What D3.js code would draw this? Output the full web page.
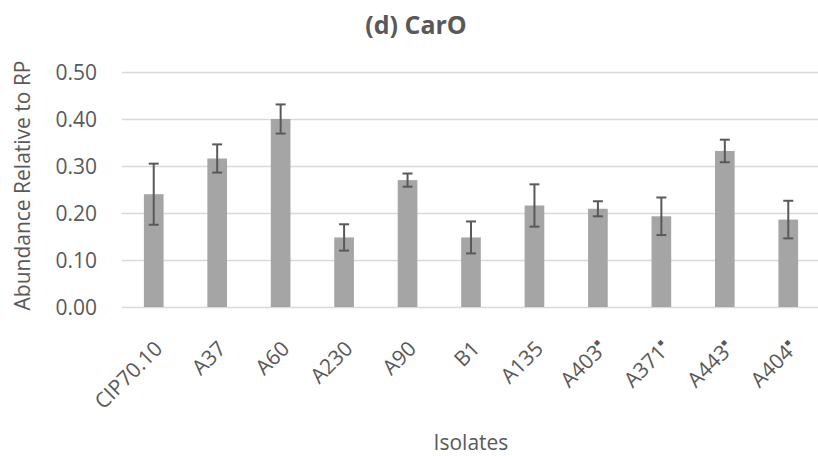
<!DOCTYPE html>
<html>
<head>
<meta charset="utf-8">
<script src="https://cdn.jsdelivr.net/npm/d3@7"></script>
<style>
  body { margin: 0; background: #fff; }
  svg { display: block; font-family: "Open Sans", sans-serif; }
  .grid line { stroke: #d9d9d9; stroke-width: 1.5; }
  .grid .domain { display: none; }
  .ytick text { fill: #595959; font-size: 21px; }
  .xlab { fill: #595959; font-size: 21px; }
  .errbar { stroke: #595959; stroke-width: 2; }
</style>
</head>
<body>
<svg id="chart" width="818" height="456"></svg>
<script>
// chart data
const isolates = ["CIP70.10", "A37", "A60", "A230", "A90", "B1", "A135", "A403", "A371", "A443", "A404"];
const marked = [false, false, false, false, false, false, false, true, true, true, true];
const abundance = [0.240, 0.316, 0.400, 0.148, 0.270, 0.148, 0.216, 0.209, 0.193, 0.332, 0.186];
const errors = [0.065, 0.030, 0.031, 0.028, 0.014, 0.034, 0.045, 0.016, 0.040, 0.024, 0.040];
const yTicks = [0, 0.1, 0.2, 0.3, 0.4, 0.5];

const titleText = "(d) CarO";
const yAxisTitle = "Abundance Relative to RP";
const xAxisTitle = "Isolates";

//layout
var plot = {left: 122, right: 820, top: 72, bottom: 307};
var barFrac = 0.31; //bar width as share of band
var capHalf = 5;

var svg = d3.select("#chart");

var x = d3.scaleBand()
    .domain(isolates)
    .range([plot.left, plot.right])
    .padding(0);
var y = d3.scaleLinear()
    .domain([0, 0.5])
    .range([plot.bottom, plot.top]);

//gridlines
svg.append("g")
    .attr("class", "grid")
    .attr("transform", "translate(" + plot.left + ",0)")
    .call(d3.axisLeft(y)
        .tickValues(yTicks)
        .tickSize(-(plot.right - plot.left))
        .tickFormat(""));

//y tick labels
svg.append("g")
    .attr("class", "ytick")
    .selectAll("text")
    .data(yTicks)
    .enter()
    .append("text")
    .attr("x", 97)
    .attr("y", function (d) { return y(d); })
    .attr("dy", "0.36em")
    .attr("text-anchor", "end")
    .text(function (d) { return d3.format(".2f")(d); });

//bars
var barW = x.bandwidth() * barFrac;
var bar = svg.append("g")
    .selectAll("g")
    .data(isolates)
    .enter()
    .append("g")
    .attr("transform", function (d) { return "translate(" + (x(d) + x.bandwidth() / 2) + ",0)"; });

bar.append("rect")
    .attr("x", -barW / 2)
    .attr("width", barW)
    .attr("y", function (d, i) { return y(abundance[i]); })
    .attr("height", function (d, i) { return plot.bottom - y(abundance[i]); })
    .style("fill", "#a5a5a5");

//error bars
bar.append("line")
    .attr("class", "errbar")
    .attr("x1", 0).attr("x2", 0)
    .attr("y1", function (d, i) { return y(abundance[i] - errors[i]); })
    .attr("y2", function (d, i) { return y(abundance[i] + errors[i]); });
bar.append("line")
    .attr("class", "errbar")
    .attr("x1", -capHalf).attr("x2", capHalf)
    .attr("y1", function (d, i) { return y(abundance[i] + errors[i]); })
    .attr("y2", function (d, i) { return y(abundance[i] + errors[i]); });
bar.append("line")
    .attr("class", "errbar")
    .attr("x1", -capHalf).attr("x2", capHalf)
    .attr("y1", function (d, i) { return y(abundance[i] - errors[i]); })
    .attr("y2", function (d, i) { return y(abundance[i] - errors[i]); });

//x labels, rotated
var xl = bar.append("text")
    .attr("class", "xlab")
    .attr("text-anchor", "end")
    .attr("transform", "translate(10," + (plot.bottom + 43) + ")rotate(-45)");
xl.append("tspan").text(function (d) { return d; });
xl.filter(function (d, i) { return marked[i]; })
    .append("tspan")
    .attr("font-size", "9px")
    .attr("dy", "-1.1em")
    .text("\u25A0");

//title
svg.append("text")
    .attr("x", 416)
    .attr("y", 34)
    .attr("text-anchor", "middle")
    .style("font-size", "25px")
    .style("font-weight", "bold")
    .style("fill", "#595959")
    .text(titleText);

//axis titles
svg.append("text")
    .attr("transform", "translate(30," + ((plot.top + plot.bottom) / 2 - 4) + ")rotate(-90)")
    .attr("text-anchor", "middle")
    .style("font-size", "21px")
    .style("fill", "#595959")
    .text(yAxisTitle);

svg.append("text")
    .attr("x", (plot.left + plot.right) / 2)
    .attr("y", 450)
    .attr("text-anchor", "middle")
    .style("font-size", "21px")
    .style("fill", "#595959")
    .text(xAxisTitle);
</script>
</body>
</html>
